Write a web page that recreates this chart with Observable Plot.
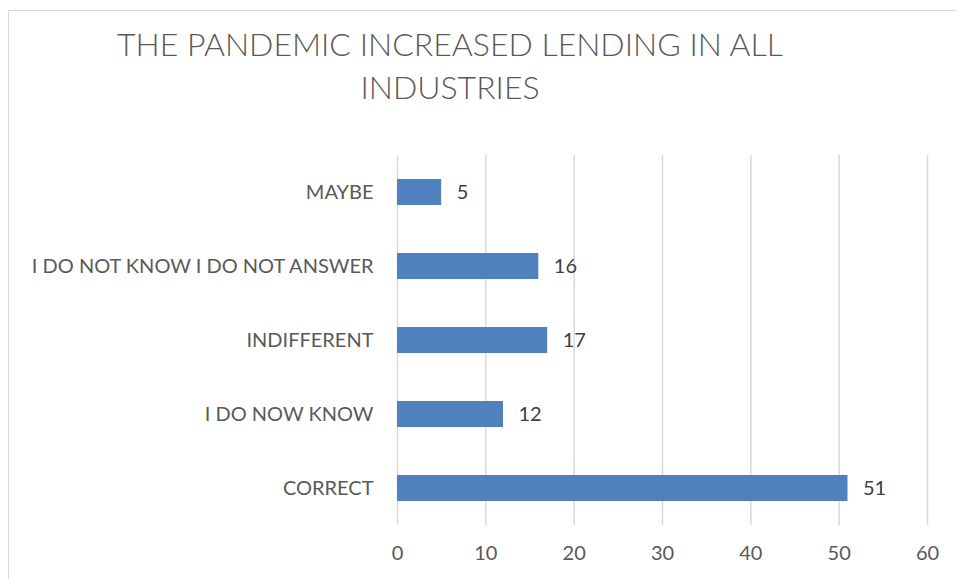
<!DOCTYPE html>
<html>
<head>
<meta charset="utf-8">
<script src="https://cdn.jsdelivr.net/npm/d3@7"></script>
<script src="https://cdn.jsdelivr.net/npm/@observablehq/plot@0.6"></script>
<style>
  html, body { margin: 0; padding: 0; background: #fff; width: 956px; height: 579px; overflow: hidden; }
  #frame { position: absolute; left: 8px; top: 10px; width: 1000px; height: 600px; border: 1px solid #d9d9d9; box-sizing: border-box; }
  #title { position: absolute; left: 0; top: 22px; width: 900px; text-align: center; font-family: Lato, "Open Sans", sans-serif; font-size: 32px; line-height: 43px; color: #595959; font-weight: 300; }
  #chart { position: absolute; left: 0; top: 130px; }
</style>
</head>
<body>
<div id="frame"></div>
<div id="title">THE PANDEMIC INCREASED LENDING IN ALL<br>INDUSTRIES</div>
<div id="chart"></div>
<script>
const categories = ["MAYBE", "I DO NOT KNOW I DO NOT ANSWER", "INDIFFERENT", "I DO NOW KNOW", "CORRECT"];
const values = [5, 16, 17, 12, 51];
const xTicks = [0, 10, 20, 30, 40, 50, 60];

const data = categories.map((c, i) => ({category: c, value: values[i]}));

const chart = Plot.plot({
  width: 956,
  height: 449,
  marginLeft: 397,
  marginRight: 29,
  marginTop: 25,
  marginBottom: 54,
  style: {fontFamily: "Lato, 'Open Sans', sans-serif", fontSize: "20px", color: "#595959", background: "transparent"},
  x: {domain: [0, 60], ticks: xTicks, label: null},
  y: {domain: categories, padding: 0, label: null},
  marks: [
    Plot.ruleX(xTicks, {stroke: "#d9d9d9", strokeWidth: 1.5}),
    Plot.barX(data, {x: "value", y: "category", fill: "#4f81bd", insetTop: 24, insetBottom: 24}),
    Plot.text(data, {x: "value", y: "category", text: d => String(d.value), textAnchor: "start", dx: 15, fill: "#404040", fontSize: 20}),
    Plot.axisX(xTicks, {tickSize: 0, tickPadding: 20, fontSize: 20, fill: "#595959", label: null}),
    Plot.axisY({tickSize: 0, tickPadding: 24, fontSize: 20, fill: "#595959", label: null})
  ]
});
document.getElementById("chart").appendChild(chart);
</script>
</body>
</html>
